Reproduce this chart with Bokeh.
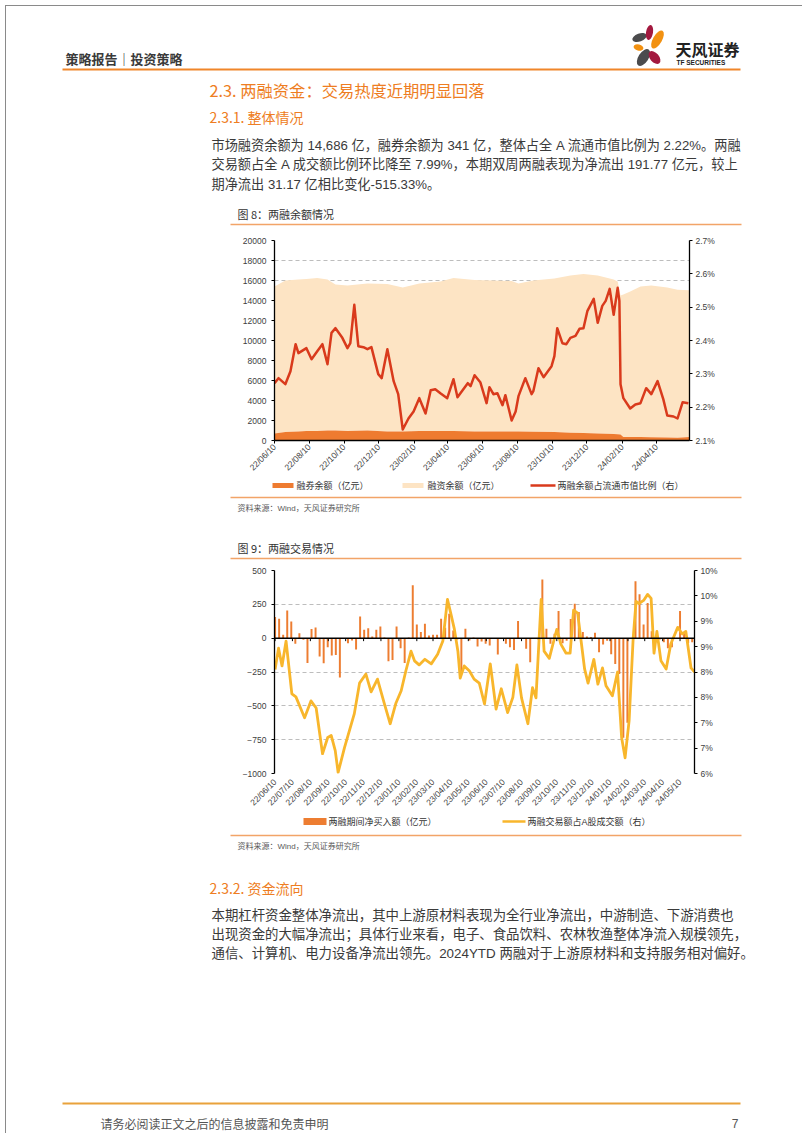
import math
import pandas as pd
from bokeh.plotting import figure
from bokeh.models import Range1d, LinearAxis, FixedTicker, CustomJSTickFormatter, DatetimeTickFormatter, Span, Div
from bokeh.core.properties import value
from bokeh.embed import file_html
from bokeh.resources import INLINE

CJK = "Noto Sans CJK SC"
LAT = "Liberation Sans"
MIX = "Liberation Sans, Noto Sans CJK SC"

# ---------------- Figure 8 data ----------------
area_dates = ["2022-06-10", "2022-06-29", "2022-07-22", "2022-08-05", "2022-08-24", "2022-09-11",
              "2022-09-25", "2022-10-16", "2022-11-20", "2022-12-25", "2023-01-21", "2023-02-19",
              "2023-03-28", "2023-04-20", "2023-05-27", "2023-06-29", "2023-07-31", "2023-08-12",
              "2023-09-07", "2023-10-14", "2023-11-11", "2023-12-04", "2023-12-29", "2024-01-26",
              "2024-02-02", "2024-02-07", "2024-02-12", "2024-02-24", "2024-03-13", "2024-04-01",
              "2024-04-29", "2024-05-17", "2024-06-07"]
# 融券余额（亿元）
rq_balance = [700, 850, 900, 950, 950, 1000, 1000, 950, 1000, 900, 900, 950, 950, 950, 900, 900,
              900, 900, 880, 850, 780, 750, 700, 650, 620, 600, 350, 350, 350, 330, 300, 280, 341]
# 融资余额（亿元）
rz_balance = [14700, 15150, 15200, 15200, 15300, 15100, 14600, 14550, 14700, 14750, 14400, 14750,
              14950, 15300, 15150, 15100, 15050, 14800, 15120, 15350, 15720, 15900, 15800, 15450,
              15280, 13900, 14250, 14550, 15050, 15170, 15000, 14800, 14686]

ratio_dates = ["2022-06-10", "2022-06-17", "2022-06-29", "2022-07-08", "2022-07-17", "2022-07-22",
               "2022-08-05", "2022-08-14", "2022-08-24", "2022-09-02", "2022-09-11", "2022-09-18",
               "2022-09-25", "2022-10-07", "2022-10-16", "2022-10-21", "2022-10-28", "2022-11-04",
               "2022-11-13", "2022-11-20", "2022-11-27", "2022-12-09", "2022-12-15", "2022-12-25",
               "2023-01-05", "2023-01-13", "2023-01-21", "2023-01-31", "2023-02-09", "2023-02-19",
               "2023-03-02", "2023-03-11", "2023-03-19", "2023-03-28", "2023-04-09", "2023-04-20",
               "2023-04-27", "2023-05-15", "2023-05-20", "2023-05-27", "2023-06-06", "2023-06-17",
               "2023-06-22", "2023-06-29", "2023-07-06", "2023-07-15", "2023-07-20", "2023-07-31",
               "2023-08-07", "2023-08-12", "2023-08-24", "2023-09-04", "2023-09-07", "2023-09-16",
               "2023-09-25", "2023-10-09", "2023-10-14", "2023-10-19", "2023-10-28", "2023-11-04",
               "2023-11-11", "2023-11-20", "2023-11-27", "2023-12-04", "2023-12-11", "2023-12-22",
               "2023-12-29", "2024-01-06", "2024-01-12", "2024-01-19", "2024-01-26", "2024-02-02",
               "2024-02-05", "2024-02-07", "2024-02-12", "2024-02-24", "2024-03-04", "2024-03-13",
               "2024-03-23", "2024-04-01", "2024-04-12", "2024-04-22", "2024-04-29", "2024-05-10",
               "2024-05-17", "2024-05-26", "2024-06-05"]
# 两融余额占流通市值比例（%）
ratio_pct = [2.272, 2.287, 2.269, 2.308, 2.389, 2.362, 2.377, 2.344, 2.368, 2.389,
             2.329, 2.423, 2.437, 2.408, 2.377, 2.392, 2.507, 2.383, 2.380, 2.374,
             2.380, 2.299, 2.287, 2.374, 2.278, 2.239, 2.133, 2.166, 2.187, 2.227,
             2.181, 2.251, 2.254, 2.242, 2.227, 2.284, 2.230, 2.272, 2.263, 2.296,
             2.275, 2.212, 2.260, 2.239, 2.242, 2.206, 2.236, 2.160, 2.187, 2.233,
             2.287, 2.239, 2.248, 2.317, 2.290, 2.323, 2.353, 2.437, 2.392, 2.389,
             2.408, 2.414, 2.435, 2.437, 2.489, 2.525, 2.453, 2.504, 2.519, 2.555,
             2.477, 2.558, 2.519, 2.269, 2.227, 2.196, 2.208, 2.212, 2.257, 2.239,
             2.278, 2.224, 2.175, 2.172, 2.166, 2.215, 2.212]

f8_xticks = ["2022-06-10", "2022-08-10", "2022-10-10", "2022-12-10", "2023-02-10", "2023-04-10",
             "2023-06-10", "2023-08-10", "2023-10-10", "2023-12-10", "2024-02-10", "2024-04-10"]
f8_left_ticks = [0, 2000, 4000, 6000, 8000, 10000, 12000, 14000, 16000, 18000, 20000]
f8_right_ticks = [2.1, 2.2, 2.3, 2.4, 2.5, 2.6, 2.7]

# ---------------- Figure 9 data ----------------
week_start = "2022-06-10"
# 两融期间净买入额（亿元），每周
net_buy = [156, 144, 25, 205, 124, -42, 37, -12, -183, 67,
           79, -136, -186, -67, -129, -124, -290, -5, -37, -17,
           -84, 161, 62, 74, 12, 62, 87, 5, -171, -161,
           87, -74, -183, 5, 391, 101, 45, 106, 20, 25,
           25, 144, 77, 181, 57, -10, -250, 70, -17, 5,
           -62, -25, -42, -54, -5, -121, -5, -42, -67, -87,
           126, -5, -79, -178, -5, -10, 433, 69, -42, 32,
           200, -37, -20, 141, 255, 193, 45, 12, 8, 40,
           -104, -47, -20, -118, -190, -265, -735, -625, -5, 420,
           324, 101, 260, 51, -30, -10, -30, -74, -67, -5,
           200, 45, -37, -30]

share_dates = ["2022-06-10", "2022-06-16", "2022-06-22", "2022-06-29", "2022-07-09", "2022-07-16",
               "2022-07-31", "2022-08-11", "2022-08-20", "2022-08-31", "2022-09-09", "2022-09-15",
               "2022-09-22", "2022-09-27", "2022-10-08", "2022-10-25", "2022-11-03", "2022-11-14",
               "2022-11-23", "2022-12-04", "2022-12-16", "2022-12-26", "2023-01-05", "2023-01-14",
               "2023-01-22", "2023-01-31", "2023-02-06", "2023-02-14", "2023-02-24", "2023-03-07",
               "2023-03-18", "2023-03-27", "2023-04-04", "2023-04-10", "2023-04-16", "2023-04-22",
               "2023-04-26", "2023-05-03", "2023-05-12", "2023-05-20", "2023-05-29", "2023-06-07",
               "2023-06-17", "2023-06-27", "2023-07-06", "2023-07-17", "2023-07-26", "2023-08-02",
               "2023-08-10", "2023-08-21", "2023-08-29", "2023-09-04", "2023-09-13", "2023-09-18",
               "2023-09-27", "2023-10-06", "2023-10-10", "2023-10-17", "2023-10-26", "2023-11-02",
               "2023-11-08", "2023-11-15", "2023-11-21", "2023-11-27", "2023-12-03", "2023-12-13",
               "2023-12-20", "2023-12-28", "2024-01-03", "2024-01-14", "2024-01-23", "2024-01-30",
               "2024-02-05", "2024-02-12", "2024-02-19", "2024-02-24", "2024-02-29", "2024-03-08",
               "2024-03-15", "2024-03-21", "2024-03-26", "2024-03-31", "2024-04-07", "2024-04-16",
               "2024-04-24", "2024-05-06", "2024-05-14", "2024-05-20", "2024-05-29", "2024-06-04"]
# 两融交易额占A股成交额（%）
share_pct = [8.05, 8.47, 8.12, 8.61, 7.57, 7.51, 7.10, 7.43, 7.29, 6.39,
             6.71, 6.75, 6.45, 6.02, 6.51, 7.18, 7.78, 7.96, 7.61, 7.86,
             7.37, 6.98, 7.39, 7.63, 8.02, 8.41, 8.22, 8.14, 8.25, 8.16,
             8.35, 8.61, 9.43, 9.14, 8.84, 8.41, 7.88, 8.12, 8.02, 7.86,
             7.78, 7.37, 8.16, 7.27, 7.67, 7.20, 7.50, 8.14, 7.49, 6.98,
             7.69, 7.49, 9.43, 8.41, 8.27, 8.67, 8.84, 8.55, 8.37, 8.37,
             9.22, 9.16, 8.61, 8.06, 7.78, 8.25, 7.76, 8.08, 7.73, 7.53,
             8.00, 6.71, 6.31, 7.04, 8.67, 9.39, 9.35, 9.41, 9.53, 9.45,
             8.37, 8.80, 8.22, 8.06, 8.55, 8.88, 8.75, 8.80, 8.08, 8.00]

f9_xticks = ["2022-06-10", "2022-07-10", "2022-08-10", "2022-09-10", "2022-10-10", "2022-11-10",
             "2022-12-10", "2023-01-10", "2023-02-10", "2023-03-10", "2023-04-10", "2023-05-10",
             "2023-06-10", "2023-07-10", "2023-08-10", "2023-09-10", "2023-10-10", "2023-11-10",
             "2023-12-10", "2024-01-10", "2024-02-10", "2024-03-10", "2024-04-10", "2024-05-10"]
f9_left_ticks = [-1000, -750, -500, -250, 0, 250, 500]
f9_right_ticks = [6, 6.5, 7, 7.5, 8, 8.5, 9, 9.5, 10]

# ---------------- texts ----------------
para1 = ["市场融资余额为 14,686 亿，融券余额为 341 亿，整体占全 A 流通市值比例为 2.22%。两融",
         "交易额占全 A 成交额比例环比降至 7.99%，本期双周两融表现为净流出 191.77 亿元，较上",
         "期净流出 31.17 亿相比变化-515.33%。"]
para2 = ["本期杠杆资金整体净流出，其中上游原材料表现为全行业净流出，中游制造、下游消费也",
         "出现资金的大幅净流出；具体行业来看，电子、食品饮料、农林牧渔整体净流入规模领先，",
         "通信、计算机、电力设备净流出领先。2024YTD 两融对于上游原材料和支持服务相对偏好。"]

ORANGE_T = "#ee7d22"
RULE = "#f2a468"
DARK = "#ee7b30"
LIGHT = "#fde4c4"
RED = "#d93a1c"
YEL = "#f8b62c"
BAR = "#ed7d31"


def ms(s):
    return pd.Timestamp(s).value / 1e6


def text_fig(h):
    p = figure(width=802, height=h, x_range=Range1d(0, 802), y_range=Range1d(h, 0),
               x_axis_location=None, y_axis_location=None, min_border=0,
               output_backend="svg", toolbar_location=None)
    p.xgrid.visible = False
    p.ygrid.visible = False
    p.outline_line_color = None
    return p


def put(p, x, y, s, size, color="#333333", font=CJK, bold=False, align="left"):
    p.text(x=[x], y=[y], text=[s], text_font=value(font), text_font_size=value(f"{size}px"),
           text_color=color, text_font_style="bold" if bold else "normal",
           text_align=align, text_baseline="middle")


def hline(p, x0, x1, y, color, w):
    p.segment(x0=[x0], y0=[y], x1=[x1], y1=[y], line_color=color, line_width=w)


def style_axis(ax, line=True):
    ax.axis_line_color = "black" if line else None
    ax.axis_line_width = 1.3
    ax.major_tick_line_color = "black" if line else None
    ax.major_tick_out = 3
    ax.major_tick_in = 0
    ax.minor_tick_line_color = None
    ax.major_label_text_font = LAT
    ax.major_label_text_font_size = "8.5px"
    ax.major_label_text_color = "#404040"


# ---------------- top text block (0..228) ----------------
top = text_fig(228)
put(top, 65, 58, "策略报告｜投资策略", 13, "#3a3a3a", bold=True)
# logo petals
top.ellipse(x=[639, 649, 657, 638, 643, 654], y=[37, 32, 39, 47, 57, 57],
            width=[15, 15, 20, 10, 19, 15], height=[8, 7, 9, 6, 10, 9],
            angle=[math.radians(a) for a in [20, 80, 60, -15, 57, -50]],
            fill_color=["#4b4b4d", "#a3193f", "#f29111", "#f29111", "#4b4b4d", "#a3193f"],
            line_color=None)
put(top, 675, 48, "天风证券", 16, "#222222", bold=True)
put(top, 676, 62, "TF SECURITIES", 6.5, "#222222", font=LAT, bold=True)
hline(top, 62, 740, 69, "#f0862a", 2)
put(top, 209, 89, "2.3. 两融资金：交易热度近期明显回落", 16.3, ORANGE_T)
put(top, 209, 116, "2.3.1. 整体情况", 14, ORANGE_T)
for i, s in enumerate(para1):
    put(top, 211, 145 + i * 19.3, s, 13.2, "#3a3a3a", font=MIX)
put(top, 237, 213, "图 8：两融余额情况", 11, "#333333")
hline(top, 230, 741, 224, RULE, 1.5)

# ---------------- Figure 8 (228..478) ----------------
p1 = figure(frame_width=415, frame_height=200, min_border_left=274, min_border_right=113,
            min_border_top=12, min_border_bottom=38, x_axis_type="datetime",
            x_range=Range1d(ms("2022-06-10"), ms("2024-06-07")), y_range=Range1d(0, 20000),
            output_backend="svg", toolbar_location=None)
p1.outline_line_color = None
p1.xgrid.visible = False
p1.ygrid.ticker = FixedTicker(ticks=f8_left_ticks)
p1.ygrid.grid_line_color = "#bdbdbd"
p1.ygrid.grid_line_dash = "4 3"
a_x = pd.to_datetime(area_dates)
total = [a + b for a, b in zip(rq_balance, rz_balance)]
p1.varea(x=a_x, y1=rq_balance, y2=total, fill_color=LIGHT)
p1.varea(x=a_x, y1=0, y2=rq_balance, fill_color=DARK)
p1.extra_y_ranges = {"pct": Range1d(2.1, 2.7)}
p1.line(x=pd.to_datetime(ratio_dates), y=ratio_pct, y_range_name="pct",
        line_color=RED, line_width=2.5, line_join="round")
yl = p1.yaxis[0]
yl.ticker = FixedTicker(ticks=f8_left_ticks)
style_axis(yl)
yl.major_label_standoff = 5
yr = LinearAxis(y_range_name="pct", ticker=FixedTicker(ticks=f8_right_ticks),
                formatter=CustomJSTickFormatter(code="return tick.toFixed(1) + '%';"))
style_axis(yr)
yr.major_label_standoff = 3
p1.add_layout(yr, "right")
xa = p1.xaxis[0]
xa.ticker = FixedTicker(ticks=[ms(d) for d in f8_xticks])
xa.formatter = DatetimeTickFormatter(days="%y/%m/%d", months="%y/%m/%d", years="%y/%m/%d")
xa.major_label_orientation = math.pi / 4
xa.major_label_standoff = 2
style_axis(xa)

# ---------------- middle text block (478..560) ----------------
mid = text_fig(82)
mid.rect(x=[282.5, 412.5], y=[7, 7], width=[21, 21], height=[5, 5],
         fill_color=[DARK, LIGHT], line_color=None)
put(mid, 296, 7, "融券余额（亿元）", 9, "#333333")
put(mid, 427, 7, "融资余额（亿元）", 9, "#333333")
hline(mid, 530, 555, 7, RED, 2.4)
put(mid, 557, 7, "两融余额占流通市值比例（右）", 9, "#333333")
hline(mid, 230, 741, 19, RULE, 1.5)
put(mid, 237, 30, "资料来源：Wind，天风证券研究所", 8, "#595959", font=MIX)
put(mid, 237, 69, "图 9：两融交易情况", 11, "#333333")
hline(mid, 230, 741, 80, RULE, 1.5)

# ---------------- Figure 9 (560..810) ----------------
p2 = figure(frame_width=420, frame_height=203, min_border_left=274, min_border_right=108,
            min_border_top=10, min_border_bottom=37, x_axis_type="datetime",
            x_range=Range1d(ms("2022-06-09"), ms("2024-06-04")), y_range=Range1d(-1000, 500),
            output_backend="svg", toolbar_location=None)
p2.outline_line_color = None
p2.xgrid.visible = False
p2.ygrid.ticker = FixedTicker(ticks=f9_left_ticks)
p2.ygrid.grid_line_color = "#bdbdbd"
p2.ygrid.grid_line_dash = "4 3"
weeks = pd.date_range(week_start, periods=len(net_buy), freq="7D")
p2.vbar(x=weeks, top=net_buy, bottom=0, width=3.4 * 86400000, fill_color=BAR, line_color=None)
p2.add_layout(Span(location=0, dimension="width", line_color="black", line_width=1.5))
tick_ms = [ms(d) for d in f9_xticks]
p2.segment(x0=tick_ms, y0=[0] * len(tick_ms), x1=tick_ms, y1=[-22] * len(tick_ms),
           line_color="black", line_width=1)
p2.extra_y_ranges = {"pct": Range1d(6, 10)}
p2.line(x=pd.to_datetime(share_dates), y=share_pct, y_range_name="pct",
        line_color=YEL, line_width=2.8, line_join="round")
y2l = p2.yaxis[0]
y2l.ticker = FixedTicker(ticks=f9_left_ticks)
style_axis(y2l)
y2l.major_label_standoff = 5
y2r = LinearAxis(y_range_name="pct", ticker=FixedTicker(ticks=f9_right_ticks),
                 formatter=CustomJSTickFormatter(code="return Math.round(tick) + '%';"))
style_axis(y2r)
y2r.major_label_standoff = 3
p2.add_layout(y2r, "right")
x2 = p2.xaxis[0]
x2.ticker = FixedTicker(ticks=tick_ms)
x2.formatter = DatetimeTickFormatter(days="%y/%m/%d", months="%y/%m/%d", years="%y/%m/%d")
x2.major_label_orientation = math.pi / 4
x2.major_label_standoff = 4
style_axis(x2, line=False)

# ---------------- bottom text block (810..1133) ----------------
bot = text_fig(323)
bot.rect(x=[314.5], y=[8], width=[23], height=[7], fill_color=BAR, line_color=None)
put(bot, 328, 8, "两融期间净买入额（亿元）", 9, "#333333")
hline(bot, 502, 525, 8, YEL, 2.4)
put(bot, 527, 8, "两融交易额占A股成交额（右）", 9, "#333333", font=MIX)
hline(bot, 230, 741, 22, RULE, 1.5)
put(bot, 237, 33, "资料来源：Wind，天风证券研究所", 8, "#595959", font=MIX)
put(bot, 209, 74, "2.3.2. 资金流向", 14, ORANGE_T)
for i, s in enumerate(para2):
    put(bot, 211, 102 + i * 19, s, 13.4, "#3a3a3a", font=MIX)
hline(bot, 62, 740, 290, "#e9a23b", 2)
put(bot, 100, 310, "请务必阅读正文之后的信息披露和免责申明", 12, "#555555")
put(bot, 738, 310, "7", 12, "#555555", font=LAT, align="right")

# thin grey page frame (fixed overlay, does not take part in the flow)
page_frame = Div(text="", width=0, height=0,
                 styles={"position": "fixed", "left": "0px", "top": "0px", "width": "800px",
                         "height": "1131px", "border": "1px solid #8a8a8a",
                         "pointer-events": "none", "z-index": "10"})

roots = [top, p1, mid, p2, bot, page_frame]
open("out.html", "w").write(file_html(roots, INLINE))
